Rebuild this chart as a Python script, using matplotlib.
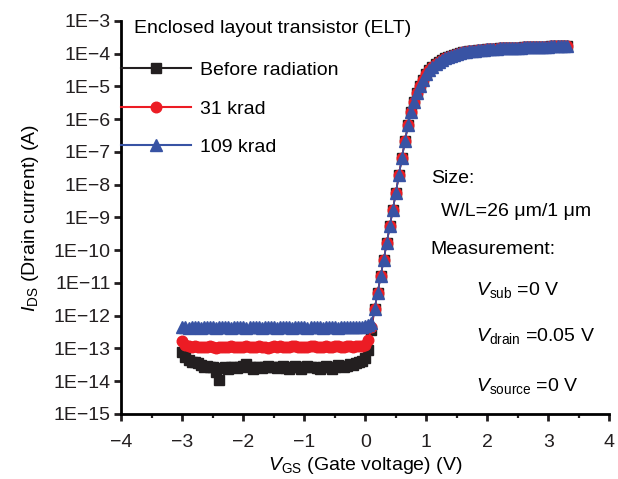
import numpy as np
import matplotlib
matplotlib.use("Agg")
import matplotlib.pyplot as plt
from matplotlib.lines import Line2D
from matplotlib.ticker import FixedLocator, NullLocator, FuncFormatter, MultipleLocator

plt.rcParams['font.family'] = ['Liberation Sans', 'DejaVu Sans']
plt.rcParams['mathtext.fontset'] = 'custom'
plt.rcParams['mathtext.rm'] = 'Liberation Sans'
plt.rcParams['mathtext.it'] = 'Liberation Sans:italic'
plt.rcParams['mathtext.bf'] = 'Liberation Sans:bold'

# ---- data (gate sweep -3.00 V ... 3.30 V, 0.05 V step) ----
vgs = np.round(np.arange(-3.0, 3.30 + 1e-6, 0.05), 2)

# log10(I_DS) in off-state region, V = -3.00 ... 0.10 (63 points)
leak_before = [-13.10, -13.25, -13.35, -13.42, -13.40, -13.45, -13.50, -13.55, -13.52, -13.58,
               -13.55, -13.72, -13.95, -13.60, -13.55, -13.62, -13.58, -13.55, -13.60, -13.57,
               -13.52, -13.48, -13.55, -13.62, -13.58, -13.55, -13.60, -13.56, -13.52, -13.58,
               -13.55, -13.60, -13.57, -13.53, -13.60, -13.64, -13.57, -13.52, -13.58, -13.62,
               -13.55, -13.52, -13.58, -13.55, -13.60, -13.64, -13.57, -13.53, -13.57, -13.62,
               -13.55, -13.50, -13.53, -13.58, -13.52, -13.48, -13.50, -13.45, -13.42, -13.38,
               -13.30, -13.05, -12.45]
leak_31krad = [-12.78, -12.88, -12.92, -12.94, -12.93, -12.95, -12.94, -12.96, -12.95, -12.93,
               -12.95, -12.97, -12.95, -12.94, -12.96, -12.95, -12.93, -12.94, -12.96, -12.95,
               -12.94, -12.92, -12.94, -12.96, -12.95, -12.93, -12.94, -12.96, -12.97, -12.95,
               -12.93, -12.94, -12.92, -12.94, -12.96, -12.95, -12.93, -12.92, -12.94, -12.95,
               -12.96, -12.94, -12.92, -12.93, -12.95, -12.96, -12.94, -12.93, -12.95, -12.94,
               -12.92, -12.93, -12.95, -12.94, -12.92, -12.93, -12.94, -12.93, -12.93, -12.92,
               -12.88, -12.75, -12.35]
leak_109krad = [-12.35, -12.35, -12.36, -12.35, -12.34, -12.35, -12.36, -12.35, -12.35, -12.34,
                -12.35, -12.36, -12.35, -12.35, -12.34, -12.35, -12.36, -12.35, -12.34, -12.35,
                -12.35, -12.36, -12.35, -12.34, -12.35, -12.35, -12.36, -12.35, -12.34, -12.35,
                -12.35, -12.36, -12.35, -12.35, -12.34, -12.35, -12.36, -12.35, -12.35, -12.34,
                -12.35, -12.36, -12.35, -12.34, -12.35, -12.35, -12.36, -12.35, -12.34, -12.35,
                -12.35, -12.36, -12.35, -12.35, -12.34, -12.35, -12.35, -12.34, -12.34, -12.33,
                -12.32, -12.28, -12.22]
# log10(I_DS) in on/subthreshold region, V = 0.15 ... 3.30 (64 points), common to all doses
on_state = [-11.80, -11.30, -10.80, -10.29, -9.78, -9.27, -8.76, -8.24, -7.70, -7.17,
            -6.65, -6.17, -5.77, -5.46, -5.20, -5.00, -4.80, -4.63, -4.50, -4.40,
            -4.31, -4.24, -4.18, -4.13, -4.09, -4.06, -4.03, -4.00, -3.98, -3.96,
            -3.94, -3.93, -3.92, -3.91, -3.90, -3.89, -3.88, -3.87, -3.86, -3.86,
            -3.85, -3.84, -3.84, -3.83, -3.83, -3.82, -3.82, -3.81, -3.81, -3.80,
            -3.80, -3.80, -3.79, -3.79, -3.79, -3.78, -3.78, -3.78, -3.77, -3.77,
            -3.77, -3.76, -3.76, -3.76]

series_labels = ["Before radiation", "31 krad", "109 krad"]
ytick_exponents = list(range(-15, -2))
xticks = [-4, -3, -2, -1, 0, 1, 2, 3, 4]

i_before = 10.0 ** np.array(leak_before + on_state)
i_31 = 10.0 ** np.array(leak_31krad + on_state)
i_109 = 10.0 ** np.array(leak_109krad + on_state)

black = '#231f20'
red = '#ec1c24'
blue = '#3853a4'

fig = plt.figure(figsize=(6.18, 4.79), dpi=100)
ax = fig.add_axes([0.1965, 0.1357, 0.7895, 0.8205])

styles = [(i_before, black, 's', 6.6), (i_31, red, 'o', 7.6), (i_109, blue, '^', 8.0)]
for y, c, m, ms in styles:
    ax.plot(vgs, y, color=c, marker=m, markersize=ms, linewidth=1.2,
            markeredgecolor=c, markerfacecolor=c)

ax.set_yscale('log')
ax.set_xlim(-4, 4)
ax.set_ylim(1e-15, 1e-3)
ax.yaxis.set_major_locator(FixedLocator([10.0 ** e for e in ytick_exponents]))
ax.yaxis.set_minor_locator(NullLocator())
ax.yaxis.set_major_formatter(FuncFormatter(
    lambda v, p: "1E\u2212%d" % int(round(-np.log10(v)))))
ax.xaxis.set_major_locator(FixedLocator(xticks))
ax.xaxis.set_minor_locator(MultipleLocator(0.5))
ax.xaxis.set_major_formatter(FuncFormatter(
    lambda v, p: ("\u2212%d" % int(round(-v))) if v < 0 else "%d" % int(round(v))))

for s in ['top', 'right']:
    ax.spines[s].set_visible(False)
for s in ['left', 'bottom']:
    ax.spines[s].set_linewidth(2.0)
ax.tick_params(which='major', direction='out', length=4.8, width=2.0, labelsize=14,
               colors='#231f20')
ax.tick_params(axis='y', which='major', pad=3)
ax.tick_params(axis='x', which='major', pad=9.5)
ax.tick_params(which='minor', direction='out', length=3.0, width=1.6, colors='#231f20')

ax.set_xlabel("$V_{\\mathrm{GS}}$ (Gate voltage) (V)", fontsize=14, labelpad=3)
ax.set_ylabel("$I_{\\mathrm{DS}}$ (Drain current) (A)", fontsize=14, labelpad=9)

ax.text(0.025, 0.980, "Enclosed layout transistor (ELT)", transform=ax.transAxes,
        fontsize=14, va='center', ha='left')

handles = [Line2D([], [], color=c, marker=m, markersize=ms, linewidth=1.5)
           for _, c, m, ms in styles]
ax.legend(handles, series_labels, loc='upper left', bbox_to_anchor=(0.0, 0.897),
          frameon=False, fontsize=14, handlelength=3.6, handletextpad=0.45,
          borderaxespad=0, borderpad=0, labelspacing=1.08, numpoints=1)

ax.text(0.634, 0.599, "Size:", transform=ax.transAxes, fontsize=14, va='center')
ax.text(0.654, 0.516, "W/L=26 \u03bcm/1 \u03bcm", transform=ax.transAxes, fontsize=14, va='center')
ax.text(0.634, 0.418, "Measurement:", transform=ax.transAxes, fontsize=14, va='center')
ax.text(0.726, 0.316, "$V_{\\mathrm{sub}}$ =0 V", transform=ax.transAxes, fontsize=14, va='center')
ax.text(0.726, 0.199, "$V_{\\mathrm{drain}}$ =0.05 V", transform=ax.transAxes, fontsize=14, va='center')
ax.text(0.726, 0.070, "$V_{\\mathrm{source}}$ =0 V", transform=ax.transAxes, fontsize=14, va='center')

fig.savefig("out.png", dpi=100)
